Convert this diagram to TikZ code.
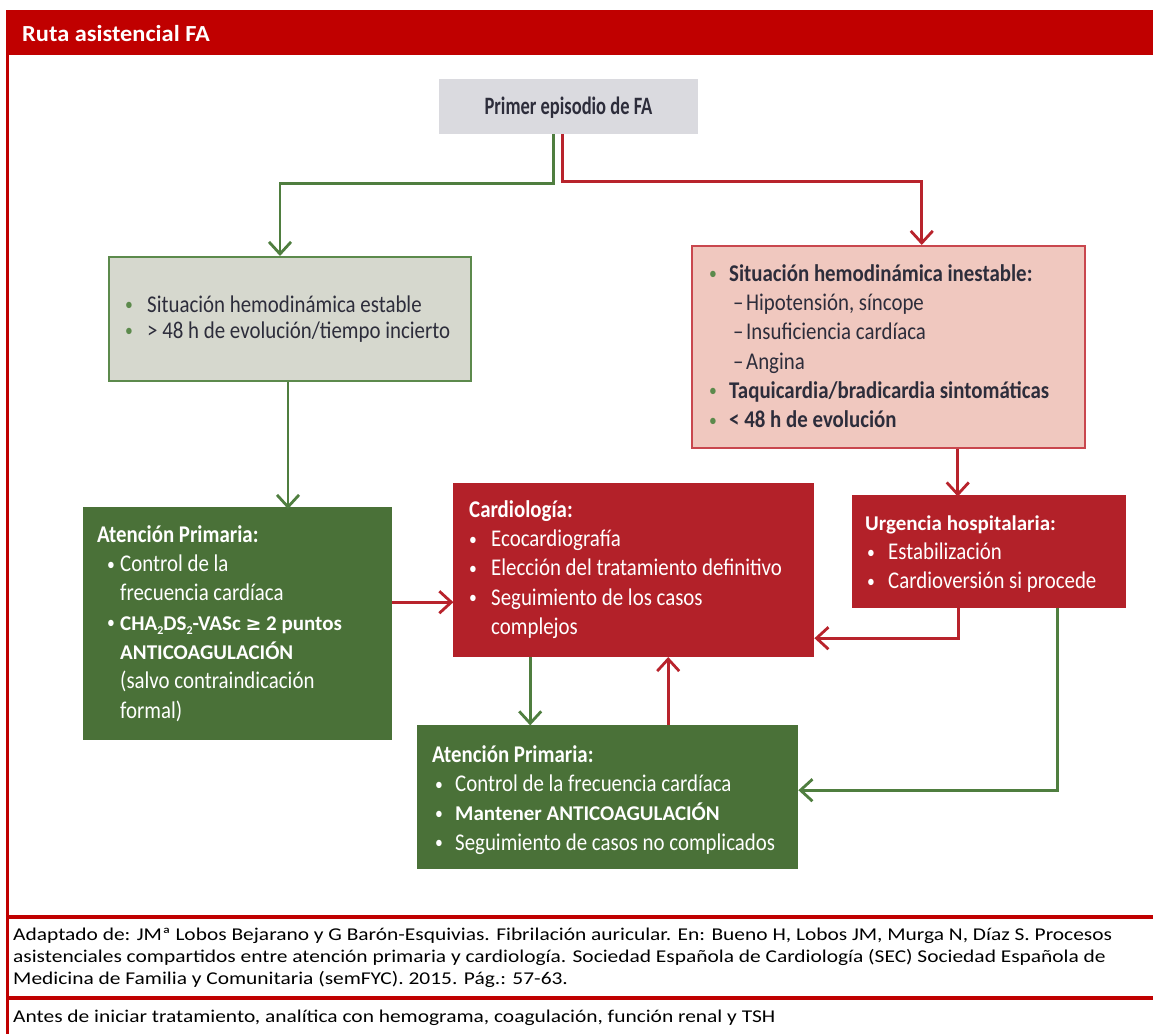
\documentclass[tikz,border=0pt]{standalone}
\usepackage{fontspec}
\setmainfont{Carlito}
\newfontfamily\cf[FakeStretch=0.87]{Carlito}
\newfontfamily\cft[FakeStretch=0.74]{Carlito}
\newfontfamily\ff[FakeStretch=1.19]{Carlito}
\newfontfamily\hf[FakeStretch=1.06]{Carlito}
\newfontfamily\djf{DejaVu Sans}
\usetikzlibrary{arrows.meta}
\definecolor{hred}{HTML}{C00000}
\definecolor{dred}{HTML}{B32129}
\definecolor{gfill}{HTML}{4A7138}
\definecolor{pinkf}{HTML}{F0C8BF}
\definecolor{pinkd}{HTML}{C9474E}
\definecolor{topg}{HTML}{DADADF}
\definecolor{ggray}{HTML}{D6D8CE}
\definecolor{gline}{HTML}{4F7E3F}
\definecolor{rline}{HTML}{B8232C}
\definecolor{tdark}{HTML}{2D2D3B}
\definecolor{bgreen}{HTML}{5C8A4C}
\newcommand\itm[3]{\hspace*{#1}\makebox[#2][l]{\color{#3}\fontsize{18}{18}\selectfont\raisebox{1.5pt}{\textbullet}}}
\newcommand\wb{\normalfont\bfseries\fontsize{21}{29.3}\selectfont}
\newcommand\subtwo{\raisebox{-4pt}{\fontsize{12}{12}\selectfont 2}}
\begin{document}
\begin{tikzpicture}[x=1pt,y=-1pt,
  boxs/.style={rectangle, inner sep=0pt, anchor=north west},
  txt/.style={anchor=north west, inner sep=0pt, align=left, font=\cf\fontsize{24}{29.3}\selectfont},
  garr/.style={draw=gline, line width=2.8pt, -{Straight Barb[length=12pt,width=22pt]}},
  rarr/.style={draw=rline, line width=2.8pt, -{Straight Barb[length=12pt,width=22pt]}},
  foot/.style={anchor=north west, inner sep=0pt, align=left, font=\ff\fontsize{18}{22}\selectfont, text=black}]
\useasboundingbox (0,0) rectangle (1153,1034);
% frame
\fill[hred] (5.5,10) rectangle (1153,55);
\draw[hred, line width=3pt] (7,10) -- (7,1034);
\draw[hred, line width=3.5pt] (7,917) -- (1153,917);
\draw[hred, line width=3.5pt] (7,998) -- (1153,998);
\node[anchor=base west, inner sep=0pt, font=\hf\bfseries\fontsize{23}{27}\selectfont, text=white] (hdr) at (22,41) {Ruta asistencial FA};

% boxes
\node[boxs, fill=topg, minimum width=259pt, minimum height=55pt] (top) at (439,79) {};
\node[font=\cft\bfseries\fontsize{25}{30}\selectfont, text=tdark, inner sep=0pt] (topt) at (568.5,108) {Primer episodio de FA};
\node[boxs, fill=ggray, draw=bgreen, line width=2pt, minimum width=362pt, minimum height=124pt] (gbox) at (108,256) {};
\node[boxs, fill=pinkf, draw=pinkd, line width=1.5pt, minimum width=393pt, minimum height=202pt] (pink) at (691,245) {};
\node[boxs, fill=gfill, minimum width=309pt, minimum height=233pt] (abox) at (83,507) {};
\node[boxs, fill=dred, minimum width=361pt, minimum height=174pt] (cbox) at (453,483) {};
\node[boxs, fill=dred, minimum width=274pt, minimum height=113pt] (ubox) at (852,495) {};
\node[boxs, fill=gfill, minimum width=381pt, minimum height=144pt] (bbox) at (417,725) {};

% texts
\node[txt, text=tdark, font=\cf\fontsize{24}{26}\selectfont] (gboxt) at (125,293.8) {\strut\itm{0pt}{22pt}{bgreen}Situación hemodinámica estable\\
\itm{0pt}{22pt}{bgreen}> 48 h de evolución/tiempo incierto};

\node[txt, text=tdark] (pinkt) at (709,260.5) {\strut\itm{0pt}{20pt}{bgreen}{\bfseries Situación hemodinámica inestable:}\\
\hspace*{24pt}\makebox[13pt][l]{–}Hipotensión, síncope\\
\hspace*{24pt}\makebox[13pt][l]{–}Insuficiencia cardíaca\\
\hspace*{24pt}\makebox[13pt][l]{–}Angina\\
\itm{0pt}{20pt}{bgreen}{\bfseries Taquicardia/bradicardia sintomáticas}\\
\itm{0pt}{20pt}{bgreen}{\bfseries < 48 h de evolución}};

\node[txt, text=white] (aboxt) at (97,521.5) {\strut{\bfseries Atención Primaria:}\\
\itm{10pt}{13pt}{white}Control de la\\
\hspace*{23pt}frecuencia cardíaca\\
\itm{10pt}{13pt}{white}{\wb CHA\subtwo DS\subtwo-VASc {\djf\fontsize{19}{29.3}\selectfont ≥} 2 puntos}\\
\hspace*{23pt}{\wb ANTICOAGULACIÓN}\\
\hspace*{23pt}(salvo contraindicación\\
\hspace*{23pt}formal)};

\node[txt, text=white] (cboxt) at (469,496.5) {\strut{\bfseries Cardiología:}\\
\itm{0pt}{22pt}{white}Ecocardiografía\\
\itm{0pt}{22pt}{white}Elección del tratamiento definitivo\\
\itm{0pt}{22pt}{white}Seguimiento de los casos\\
\hspace*{22pt}complejos};

\node[txt, text=white] (uboxt) at (865,509.5) {\strut{\wb Urgencia hospitalaria:}\\
\itm{2pt}{21pt}{white}Estabilización\\
\itm{2pt}{21pt}{white}Cardioversión si procede};

\node[txt, text=white] (bboxt) at (432,741.5) {\strut{\bfseries Atención Primaria:}\\
\itm{3pt}{20pt}{white}Control de la frecuencia cardíaca\\
\itm{3pt}{20pt}{white}{\wb Mantener ANTICOAGULACIÓN}\\
\itm{3pt}{20pt}{white}Seguimiento de casos no complicados};

% footer
\node[foot] (ref) at (13,924.6) {\strut Adaptado de: JMª Lobos Bejarano y G Barón-Esquivias. Fibrilación auricular. En: Bueno H, Lobos JM, Murga N, Díaz S. Procesos\\
asistenciales compartidos entre atención primaria y cardiología. Sociedad Española de Cardiología (SEC) Sociedad Española de\\
Medicina de Familia y Comunitaria (semFYC). 2015. Pág.: 57-63.};
\node[foot] (note) at (13,1006.6) {\strut Antes de iniciar tratamiento, analítica con hemograma, coagulación, función renal y TSH};

% connectors
\draw[garr] ([xshift=-15.5pt]top.south) -- ++(0,49) -| ([xshift=-10pt]gbox.north);
\draw[rarr] ([xshift=-6.5pt]top.south) -- ++(0,47) -| ([xshift=33.5pt]pink.north);
\draw[garr] ([xshift=-2pt]gbox.south) -- ++(0,127);
\draw[rarr] ([yshift=21.5pt]abox.east) -- ++(61,0);
\draw[rarr] ([xshift=69.5pt]pink.south) -- ++(0,48);
\path ([yshift=-68pt]cbox.east) coordinate (c2);
\draw[rarr] ([xshift=-31pt]ubox.south) |- (c2);
\path ([yshift=7pt]bbox.east) coordinate (b2);
\draw[garr] ([xshift=68pt]ubox.south) |- (b2);
\draw[garr] ([xshift=-103.5pt]cbox.south) -- ++(0,68);
\draw[rarr] ([xshift=60.5pt]bbox.north) -- ++(0,-68);
\end{tikzpicture}
\end{document}
